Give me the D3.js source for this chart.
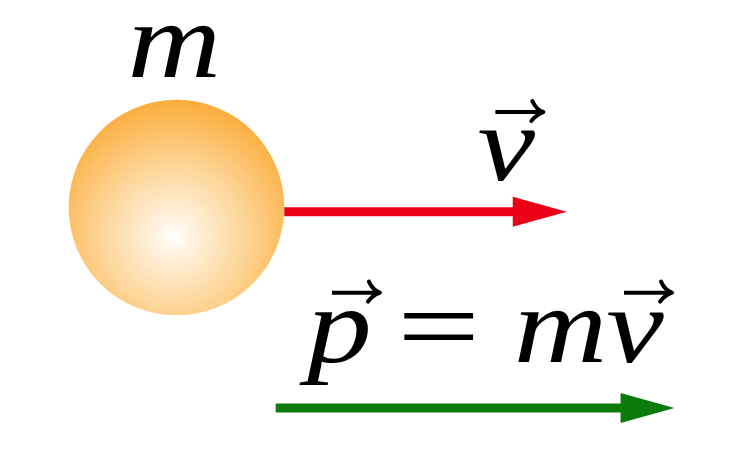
<!DOCTYPE html>
<html>
<head>
<meta charset="utf-8">
<script src="https://cdn.jsdelivr.net/npm/d3@7"></script>
<style>
  html, body { margin: 0; padding: 0; background: #fff; }
  svg { display: block; }
  .sym { font-family: "Liberation Serif", "DejaVu Serif", serif; font-style: italic; fill: #000; }
  .op { font-family: "Liberation Serif", "DejaVu Serif", serif; fill: #000; }
</style>
</head>
<body>
<svg width="741" height="451"></svg>
<script>
// diagram in units of ball radius, origin at the ball centre, y up
const ball = { x: 0, y: 0, r: 1, shine: [-0.03, -0.27] }
const vectors = [
  { name: 'v', from: [1.0, -0.04], to: [3.62, -0.04], color: '#ec0018' },
  { name: 'p', from: [0.92, -1.86], to: [4.62, -1.86], color: '#0b7a0b' }
]
const labels = [
  { text: 'm', at: [-0.02, 1.21], vec: false },
  { text: 'v', at: [3.06, 0.255], vec: true }
]
// p = m v
const formula = [
  { text: 'p', vec: true, kind: 'sym' },
  { text: '=', vec: false, kind: 'op' },
  { text: 'm', vec: false, kind: 'sym' },
  { text: 'v', vec: true, kind: 'sym' }
]
const formulaAt = [1.21, -1.43]

let main = () => {
  let svg = d3.select('svg')
  let unit = 107.8
  let x = d3.scaleLinear().domain([0, 1]).range([176.5, 176.5 + unit])
  let y = d3.scaleLinear().domain([0, 1]).range([207.5, 207.5 - unit])

  let defs = svg.append('defs')
  let grad = defs.append('radialGradient')
    .attr('id', 'ballShade')
    .attr('gradientUnits', 'userSpaceOnUse')
    .attr('cx', x(ball.shine[0])).attr('cy', y(ball.shine[1]))
    .attr('fx', x(ball.shine[0])).attr('fy', y(ball.shine[1]))
    .attr('r', unit * 1.3)
  grad.append('stop').attr('offset', 0).attr('stop-color', '#ffffff')
  grad.append('stop').attr('offset', 0.12).attr('stop-color', '#fff4e2')
  grad.append('stop').attr('offset', 0.55).attr('stop-color', '#fdd290')
  grad.append('stop').attr('offset', 1).attr('stop-color', '#fbaa36')

  svg.append('circle')
    .attr('cx', x(ball.x)).attr('cy', y(ball.y))
    .attr('r', x(ball.r) - x(0))
    .attr('fill', 'url(#ballShade)')

  let headLen = 54, headHalf = 15, lineW = 9
  let arrows = svg.selectAll('g.vec').data(vectors).enter().append('g').attr('class', 'vec')
  arrows.append('line')
    .attr('x1', d => x(d.from[0])).attr('y1', d => y(d.from[1]))
    .attr('x2', d => x(d.to[0]) - headLen + 2).attr('y2', d => y(d.to[1]))
    .attr('stroke', d => d.color).attr('stroke-width', lineW)
  arrows.append('path')
    .attr('d', d => {
      let tx = x(d.to[0]), ty = y(d.to[1])
      return `M${tx},${ty}L${tx - headLen},${ty - headHalf}L${tx - headLen},${ty + headHalf}Z`
    })
    .attr('fill', d => d.color)

  // small arrow drawn over a vector symbol
  let accent = (x0, x1, yy) => {
    let g = svg.append('g')
    g.append('path')
      .attr('d', `M${x0},${yy}L${x1 - 2},${yy}`)
      .attr('stroke', '#000').attr('stroke-width', 4).attr('fill', 'none')
    g.append('path')
      .attr('d', `M${x1 - 11},${yy - 11}Q${x1 - 7},${yy - 2} ${x1},${yy}Q${x1 - 8},${yy + 3} ${x1 - 12},${yy + 9}`)
      .attr('stroke', '#000').attr('stroke-width', 4).attr('fill', 'none')
      .attr('stroke-linecap', 'round').attr('stroke-linejoin', 'round')
  }
  // where the accent sits, relative to the glyph's ink centre
  let accentSpan = { p: [-4, 44], v: [-11, 37] }
  let accentRise = 68

  let fs = 108, stretch = 1.2, opStretch = 1.14
  labels.forEach(l => {
    let g = svg.append('g')
      .attr('transform', `translate(${x(l.at[0])},${y(l.at[1])}) scale(${stretch},1)`)
    let t = g.append('text').attr('class', 'sym')
      .attr('text-anchor', 'middle').attr('font-size', fs).text(l.text)
    if (l.vec) {
      let cx = x(l.at[0])
      let s = accentSpan[l.text]
      accent(cx + s[0], cx + s[1], y(l.at[1]) - accentRise)
    }
  })

  // formula laid out glyph by glyph
  let fx = x(formulaAt[0]), fy = y(formulaAt[1])
  let fg = svg.append('g')
    .attr('transform', `translate(${fx},${fy}) scale(${stretch},1)`)
  let gaps = [0, 21, 28, -1]
  let cur = 0
  formula.forEach((f, i) => {
    cur += gaps[i]
    let k = f.kind == 'op' ? opStretch : 1
    let t = fg.append('text').attr('class', f.kind)
      .attr('transform', `translate(${cur},0) scale(${k},1)`)
      .attr('font-size', fs).text(f.text)
    let w = t.node().getComputedTextLength() * k
    if (f.vec) {
      let b = t.node().getBBox()
      let cx = fx + (cur + b.x + b.width / 2) * stretch
      if (f.text == 'p') cx = fx + 29
      let s = accentSpan[f.text]
      accent(cx + s[0], cx + s[1], fy - accentRise - 1)
    }
    cur += w
  })
}
d3.select(window).on('load', main)
</script>
</body>
</html>
